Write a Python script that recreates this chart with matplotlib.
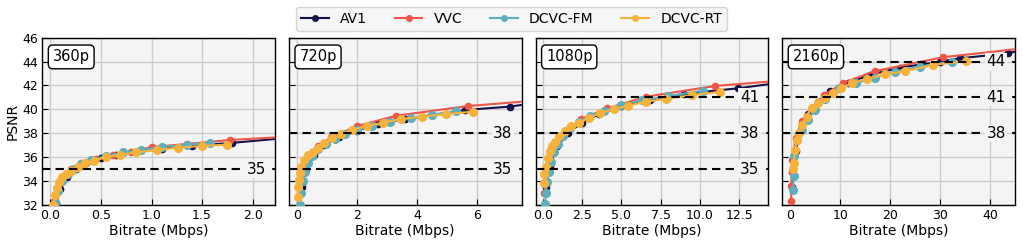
import numpy as np
import matplotlib
matplotlib.use("Agg")
import matplotlib.pyplot as plt

# Colours per codec
colors = {"AV1": "#15124a", "VVC": "#ee5648", "DCVC-FM": "#5eafbb", "DCVC-RT": "#f7b23c"}
codecs = ["AV1", "VVC", "DCVC-FM", "DCVC-RT"]
resolutions = ["360p", "720p", "1080p", "2160p"]

# Rate points (bitrate in Mbps, PSNR in dB)
av1_360_rate = [0.06, 0.1, 0.16, 0.25, 0.35, 0.5, 0.65, 0.85, 1.1, 1.4, 1.8]
av1_360_psnr = [32.2, 33.3, 34.3, 35.0, 35.5, 35.9, 36.15, 36.45, 36.7, 36.95, 37.2]
vvc_360_rate = [0.04, 0.07, 0.12, 0.2, 0.3, 0.45, 0.62, 0.8, 1.0, 1.35, 1.78]
vvc_360_psnr = [32.3, 33.3, 34.3, 35.0, 35.5, 35.85, 36.15, 36.45, 36.85, 37.1, 37.44]
fm_360_rate = [0.05, 0.08, 0.12, 0.17, 0.23, 0.3, 0.4, 0.55, 0.72, 0.9, 1.1, 1.35, 1.58]
fm_360_psnr = [32.2, 33.2, 34.0, 34.6, 35.0, 35.4, 35.75, 36.1, 36.4, 36.6, 36.85, 37.05, 37.2]
rt_360_rate = [0.03, 0.05, 0.07, 0.09, 0.12, 0.15, 0.2, 0.27, 0.34, 0.43, 0.55, 0.69, 0.85,
               1.05, 1.26, 1.5, 1.75]
rt_360_psnr = [32.0, 32.8, 33.4, 33.9, 34.3, 34.6, 34.87, 35.2, 35.5, 35.7, 36.0, 36.2, 36.4,
               36.6, 36.8, 36.94, 37.05]

av1_720_rate = [0.15, 0.3, 0.55, 0.9, 1.4, 2.0, 2.7, 3.6, 4.5, 5.6, 7.1]
av1_720_psnr = [33.5, 35.0, 36.2, 37.0, 37.7, 38.2, 38.78, 39.2, 39.5, 39.95, 40.23]
vvc_720_rate = [0.08, 0.2, 0.4, 0.7, 1.14, 1.99, 3.31, 5.71]
vvc_720_psnr = [33.0, 34.9, 36.1, 36.9, 37.66, 38.6, 39.47, 40.28]
fm_720_rate = [0.1, 0.13, 0.18, 0.25, 0.35, 0.5, 0.7, 0.95, 1.25, 1.6, 2.0, 2.5, 3.1, 3.8, 4.5, 5.32]
fm_720_psnr = [32.0, 33.0, 34.0, 34.8, 35.5, 36.1, 36.65, 37.1, 37.5, 37.9, 38.25, 38.6, 38.95,
               39.3, 39.55, 39.87]
rt_720_rate = [0.03, 0.04, 0.05, 0.08, 0.13, 0.24, 0.36, 0.52, 0.69, 0.91, 1.15, 1.47, 1.84,
               2.33, 2.86, 3.48, 4.18, 4.98, 5.87]
rt_720_psnr = [32.7, 33.5, 34.1, 34.65, 35.2, 35.77, 36.18, 36.45, 36.8, 37.16, 37.6, 37.92,
               38.28, 38.61, 38.89, 39.2, 39.39, 39.6, 39.81]

av1_1080_rate = [0.2, 0.45, 0.9, 1.6, 2.5, 3.6, 5.0, 6.8, 9.0, 12.4]
av1_1080_psnr = [33.5, 35.3, 36.9, 38.0, 38.9, 39.6, 40.25, 40.8, 41.3, 41.76]
vvc_1080_rate = [0.11, 0.3, 0.7, 1.4, 2.44, 4.09, 6.57, 10.96]
vvc_1080_psnr = [32.98, 35.0, 36.8, 38.1, 39.2, 40.09, 41.06, 41.96]
fm_1080_rate = [0.15, 0.2, 0.27, 0.37, 0.5, 0.7, 0.95, 1.3, 1.75, 2.3, 3.0, 3.9, 5.0, 6.3, 8.0, 10.17]
fm_1080_psnr = [32.1, 33.0, 33.9, 34.8, 35.6, 36.4, 37.1, 37.8, 38.4, 38.95, 39.45, 39.9, 40.35,
                40.75, 41.1, 41.57]
rt_1080_rate = [0.05, 0.1, 0.18, 0.31, 0.46, 0.6, 0.78, 1.03, 1.39, 1.82, 2.33, 2.93, 3.67,
                4.55, 5.45, 6.57, 7.84, 9.5, 11.28]
rt_1080_psnr = [33.8, 34.6, 35.2, 35.9, 36.5, 36.9, 37.3, 37.74, 38.16, 38.58, 38.89, 39.31,
                39.67, 40.04, 40.31, 40.65, 40.87, 41.2, 41.46]

av1_2160_rate = [0.3, 1.0, 2.0, 3.5, 5.5, 8.0, 11.5, 16.0, 22.0, 30.0, 34.0, 43.7]
av1_2160_psnr = [33.5, 36.5, 38.3, 39.6, 40.6, 41.5, 42.2, 42.9, 43.5, 44.0, 44.28, 44.69]
vvc_2160_rate = [0.1, 0.15, 0.2, 0.35, 1.0, 2.2, 4.3, 6.7, 10.6, 16.9, 30.5]
vvc_2160_psnr = [32.3, 33.6, 34.8, 35.8, 37.6, 39.0, 40.15, 41.2, 42.23, 43.2, 44.36]
fm_2160_rate = [0.5, 0.6, 0.76, 1.2, 2.2, 3.4, 4.85, 6.9, 9.7, 13.2, 16.9, 20.9, 26.0, 32.3]
fm_2160_psnr = [33.25, 34.4, 36.1, 37.45, 38.3, 39.1, 39.95, 40.85, 41.76, 42.2, 42.66, 43.16,
                43.58, 44.0]
rt_2160_rate = [0.45, 0.6, 0.9, 1.2, 1.7, 2.2, 3.2, 4.2, 5.5, 6.9, 8.5, 10.2, 12.3, 15.3, 18.9,
                23.0, 28.6, 35.3]
rt_2160_psnr = [35.0, 35.5, 36.6, 37.45, 38.0, 38.7, 39.4, 40.1, 40.5, 40.99, 41.4, 41.76, 42.2,
                42.54, 42.93, 43.2, 43.72, 44.05]

# AV1 / VVC fitted curves run on to the right edge: end values per resolution
av1_tail = [(2.22, 37.52), (7.5, 40.37), (14.35, 42.1), (45.0, 44.83)]
vvc_tail = [(2.22, 37.65), (7.5, 40.64), (14.35, 42.32), (45.0, 45.03)]

rates = {
    "360p": [av1_360_rate, vvc_360_rate, fm_360_rate, rt_360_rate],
    "720p": [av1_720_rate, vvc_720_rate, fm_720_rate, rt_720_rate],
    "1080p": [av1_1080_rate, vvc_1080_rate, fm_1080_rate, rt_1080_rate],
    "2160p": [av1_2160_rate, vvc_2160_rate, fm_2160_rate, rt_2160_rate],
}
psnrs = {
    "360p": [av1_360_psnr, vvc_360_psnr, fm_360_psnr, rt_360_psnr],
    "720p": [av1_720_psnr, vvc_720_psnr, fm_720_psnr, rt_720_psnr],
    "1080p": [av1_1080_psnr, vvc_1080_psnr, fm_1080_psnr, rt_1080_psnr],
    "2160p": [av1_2160_psnr, vvc_2160_psnr, fm_2160_psnr, rt_2160_psnr],
}
ref_lines = {"360p": [35], "720p": [35, 38], "1080p": [35, 38, 41], "2160p": [38, 41, 44]}
xlims = [(-0.08, 2.22), (-0.28, 7.5), (-0.46, 14.35), (-1.7, 45.0)]
xticks = [[0.0, 0.5, 1.0, 1.5, 2.0], [0, 2, 4, 6], [0.0, 2.5, 5.0, 7.5, 10.0, 12.5], [0, 10, 20, 30, 40]]
xticklabels = [["0.0", "0.5", "1.0", "1.5", "2.0"], ["0", "2", "4", "6"],
               ["0.0", "2.5", "5.0", "7.5", "10.0", "12.5"], ["0", "10", "20", "30", "40"]]

bg = "#f4f4f4"
fig, axes = plt.subplots(1, 4, figsize=(10.23, 2.44), dpi=100, sharey=True)
fig.subplots_adjust(left=0.0413, right=0.992, top=0.8455, bottom=0.16, wspace=0.06)

for i, (ax, res) in enumerate(zip(axes, resolutions)):
    ax.set_facecolor(bg)
    ax.grid(True, color="#cccccc", lw=1.0, zorder=0)
    ax.set_axisbelow(True)
    for j, codec in enumerate(codecs):
        r = list(rates[res][j])
        p = list(psnrs[res][j])
        lr, lp = r, p
        if codec == "AV1":
            lr = r + [av1_tail[i][0]]
            lp = p + [av1_tail[i][1]]
        elif codec == "VVC":
            lr = r + [vvc_tail[i][0]]
            lp = p + [vvc_tail[i][1]]
        ax.plot(lr, lp, color=colors[codec], lw=1.5, zorder=3 + j)
        ax.plot(r, p, 'o', color=colors[codec], ms=5.5 if j >= 2 else 4.5, zorder=3 + j)
    for q in ref_lines[res]:
        ax.axhline(q, color="black", ls=(0, (4, 2.5)), lw=1.5, zorder=10)
        ax.text(0.92, q, str(q), transform=ax.get_yaxis_transform(), ha="center", va="center",
                fontsize=11, zorder=11,
                bbox=dict(boxstyle="square,pad=0.1", fc=bg, ec="none"))
    ax.text(0.045, 0.93, res, transform=ax.transAxes, ha="left", va="top", fontsize=10.5, zorder=12,
            bbox=dict(boxstyle="round,pad=0.3", fc="white", ec="black", lw=1))
    ax.set_xlim(*xlims[i])
    ax.set_ylim(32, 46)
    ax.set_xticks(xticks[i])
    ax.set_xticklabels(xticklabels[i])
    ax.set_yticks(np.arange(32, 47, 2))
    ax.tick_params(direction="in", length=4, labelsize=9, pad=3)
    ax.set_xlabel("Bitrate (Mbps)", fontsize=10, labelpad=1)
    for s in ax.spines.values():
        s.set_color("black")
        s.set_linewidth(1.0)

axes[0].set_ylabel("PSNR", fontsize=10, labelpad=2)

handles = [plt.Line2D([], [], color=colors[c], marker='o', ms=4, lw=1.5) for c in codecs]
fig.legend(handles, codecs, loc="upper center", bbox_to_anchor=(0.5, 1.0), ncol=4, fontsize=10,
           frameon=True, facecolor=bg, edgecolor="#cccccc", handlelength=2.0, columnspacing=2.0,
           borderpad=0.35, handletextpad=0.8)

fig.savefig("out.png", dpi=100)
